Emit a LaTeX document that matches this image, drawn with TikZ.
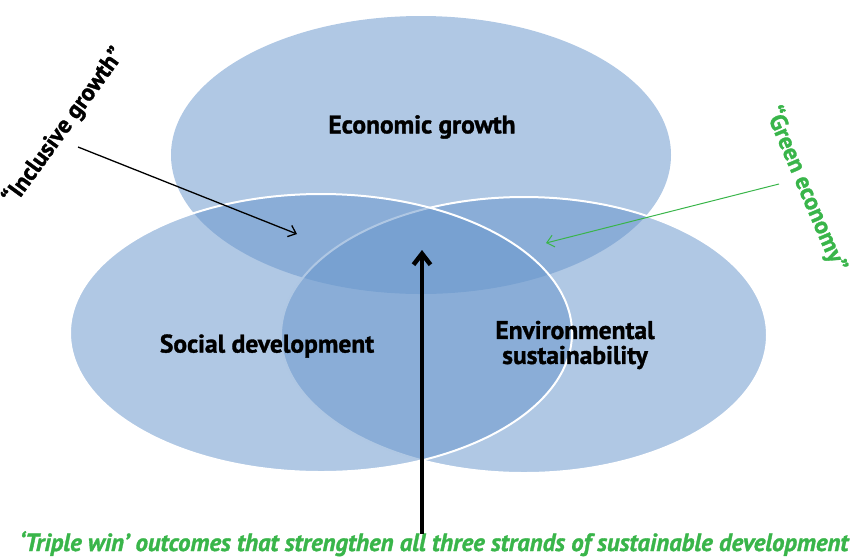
\documentclass[tikz,border=0pt]{standalone}
\usepackage{fontspec}
\setmainfont{PT Sans}
\newfontfamily\heavyfont[BoldFeatures={FakeBold=1.3}, BoldItalicFeatures={FakeBold=1.3}]{PT Sans}
\usetikzlibrary{arrows.meta}
\definecolor{setblue}{RGB}{103,149,203}
\definecolor{wingreen}{RGB}{57,181,74}

\begin{document}
\begin{tikzpicture}[x=1pt, y=-1pt,
  set/.style={fill=setblue, fill opacity=0.52, draw=white, line width=2pt},
  label/.style={font=\heavyfont\bfseries\fontsize{25.5}{25}\selectfont, align=center, inner sep=0pt},
  quote/.style={font=\heavyfont\bfseries\fontsize{24}{24}\selectfont, inner sep=0pt},
  pointer/.style={-{Straight Barb[length=7pt,width=12pt]}, line width=1.3pt}]
\useasboundingbox (0,0) rectangle (851,558);
% the three strands
\fill[setblue, fill opacity=0.52] (421,155) ellipse (250 and 139);
\filldraw[set] (524,335) ellipse (243 and 138);
\filldraw[set] (321,333) ellipse (251 and 139);

\node[label] (econ) at (422,127) {Economic growth};
\node[label] (social) at (267,346) {Social development};
\node[label] (env) at (575,345) {Environmental\\sustainability};

\node[quote, rotate=54] (inclusive) at (64,126) {“Inclusive growth”};
\node[quote, rotate=-67, text=wingreen] (green) at (806,189) {“Green economy”};
\node[font=\heavyfont\bfseries\itshape\fontsize{24.8}{25}\selectfont, text=wingreen, inner sep=0pt, anchor=base] (outcome) at (434,551)
  {‘Triple win’ outcomes that strengthen all three strands of sustainable development};

\coordinate (incl tail) at (78,147);
\coordinate (incl tip) at (297,234);
\coordinate (green tail) at (779,184);
\coordinate (green tip) at (546,243);
\coordinate (win tail) at (422,534);
\coordinate (win tip) at (422,250);

\draw[pointer] (incl tail) -- (incl tip);
\draw[pointer, draw=wingreen, line width=1pt] (green tail) -- (green tip);
\draw[-{Straight Barb[length=11pt,width=17pt]}, line width=4.5pt] (win tail) -- (win tip);
\end{tikzpicture}
\end{document}
